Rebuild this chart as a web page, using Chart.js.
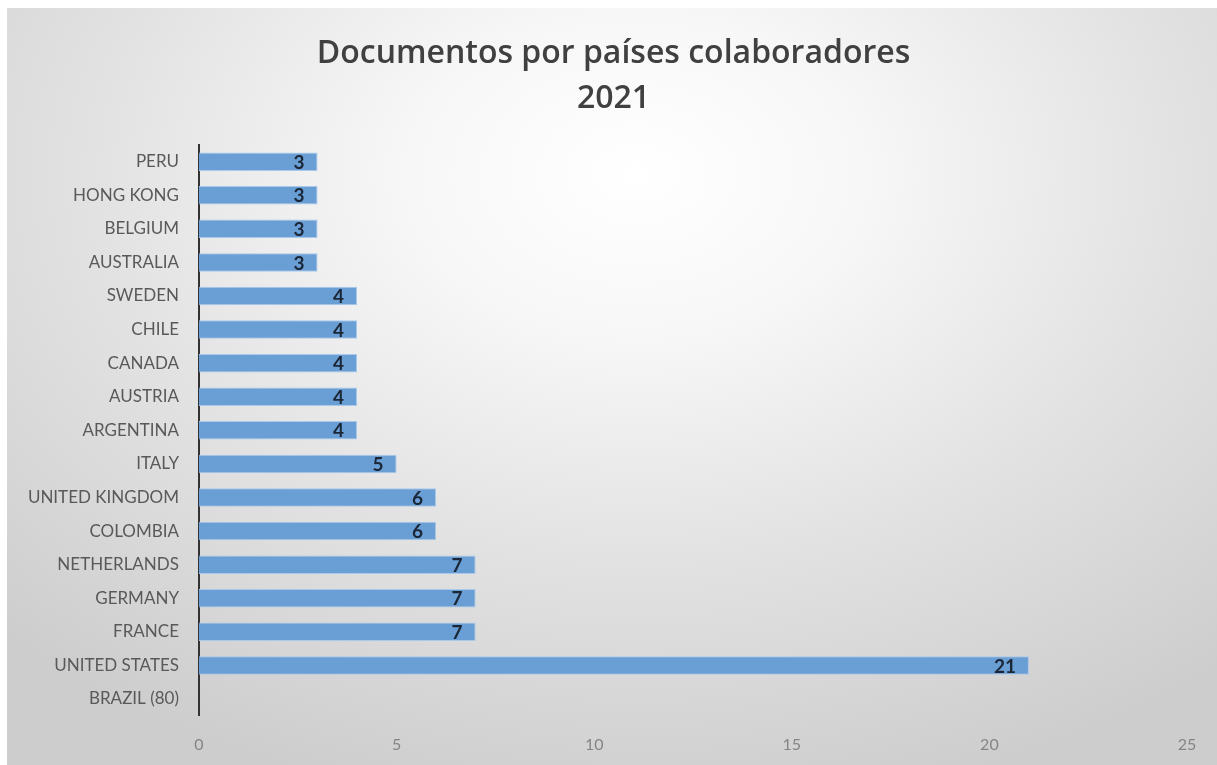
<!DOCTYPE html>
<html>
<head>
<meta charset="utf-8">
<script src="https://cdn.jsdelivr.net/npm/chart.js@4"></script>
<style>
  html, body { margin: 0; padding: 0; background: #ffffff; }
  #marco {
    position: absolute; left: 7px; top: 8px; width: 1210px; height: 757px;
    background: radial-gradient(ellipse 75% 85% at 52% 22%, #ffffff 0%, #f7f7f7 25%, #e2e2e2 60%, #cdcdcd 100%);
  }
  #grafica { position: absolute; left: 0; top: 0; }
</style>
</head>
<body>
<div id="marco"></div>
<canvas id="grafica" width="1217" height="765"></canvas>
<script>

// DATOS

const paises = [
    'PERU', 'HONG KONG', 'BELGIUM', 'AUSTRALIA', 'SWEDEN', 'CHILE', 'CANADA',
    'AUSTRIA', 'ARGENTINA', 'ITALY', 'UNITED KINGDOM', 'COLOMBIA',
    'NETHERLANDS', 'GERMANY', 'FRANCE', 'UNITED STATES', 'BRAZIL (80)'
];

const documentos = [3, 3, 3, 3, 4, 4, 4, 4, 4, 5, 6, 6, 7, 7, 7, 21, null];

const titulo = ['Documentos por países colaboradores', '2021'];

const ejeX = { min: 0, max: 25, paso: 5 };


// ETIQUETAS DENTRO DE LAS BARRAS

const etiquetas = {
    id: 'etiquetas',
    afterDatasetsDraw(chart){
        const c = chart.ctx;
        const meta = chart.getDatasetMeta(0);
        c.save();
        c.font = 'bold 19px Lato';
        c.fillStyle = '#1b2636';
        c.textAlign = 'right';
        c.textBaseline = 'middle';
        meta.data.forEach((barra, i)=>{
            const v = documentos[i];
            if(v == null) return;
            c.fillText(String(v), barra.x - 13, barra.y + 1);
        });
        c.restore();
    }
};


// GRAFICA

const ctx = document.getElementById('grafica');

new Chart(ctx, {

    type: 'bar',

    data: {
        labels: paises,
        datasets: [{
            data: documentos,
            backgroundColor: '#6a9fd6',
            borderColor: '#a9c8ea',
            borderWidth: 1,
            borderSkipped: 'left',
            categoryPercentage: 1,
            barPercentage: 0.55
        }]
    },

    plugins: [etiquetas],

    options: {
        indexAxis: 'y',
        responsive: false,
        animation: false,
        layout: {
            padding: { left: 10, right: 0, top: 31, bottom: 0 }
        },
        plugins: {
            legend: { display: false },
            tooltip: { enabled: false },
            title: {
                display: true,
                text: titulo,
                color: '#404040',
                font: { family: 'Open Sans', size: 32, weight: '600', lineHeight: 1.42 },
                padding: { top: 0, bottom: 23 }
            }
        },
        scales: {
            x: {
                min: ejeX.min,
                max: ejeX.max,
                grid: { display: false },
                border: { display: false },
                ticks: {
                    stepSize: ejeX.paso,
                    color: '#858585',
                    font: { family: 'Lato', size: 16 },
                    padding: 11
                },
                afterFit(scale){
                    // deja sitio a la derecha sin mover el titulo
                    scale.paddingRight = 30;
                }
            },
            y: {
                grid: { display: false },
                border: { display: true, color: '#333333', width: 2 },
                ticks: {
                    color: '#595959',
                    font: { family: 'Lato', size: 17 },
                    padding: 12
                },
                afterFit(scale){
                    scale.width = 189;
                }
            }
        }
    }

});

</script>
</body>
</html>
